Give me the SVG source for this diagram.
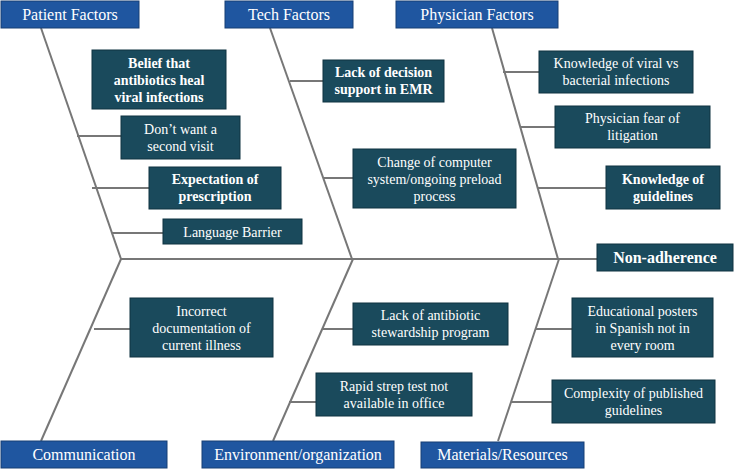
<svg xmlns="http://www.w3.org/2000/svg" width="734" height="469" viewBox="0 0 734 469">
<style>
.hdr{fill:#1f56a0;stroke:#173f75;stroke-width:1}
.box{fill:#1a4a5c;stroke:#0f3340;stroke-width:1}
.ht{font-size:16px;fill:#fff;text-anchor:middle}
.t{font-size:14px;fill:#fff;text-anchor:middle}
.b{font-weight:bold}
.ln{stroke:#777;stroke-width:2;fill:none}
</style>
<rect width="734" height="469" fill="#fff"/>
<g id="connectors">
<line class="ln" x1="121" y1="259" x2="597" y2="259"/>
<line class="ln" x1="41" y1="28" x2="121" y2="259"/>
<line class="ln" x1="270" y1="28" x2="352" y2="259"/>
<line class="ln" x1="492" y1="28" x2="558" y2="259"/>
<line class="ln" x1="121" y1="259" x2="41" y2="441"/>
<line class="ln" x1="353" y1="259" x2="273" y2="441"/>
<line class="ln" x1="559" y1="259" x2="498" y2="441"/>
<line class="ln" x1="77" y1="136" x2="121" y2="136"/>
<line class="ln" x1="92" y1="188" x2="149" y2="188"/>
<line class="ln" x1="112" y1="233" x2="163" y2="233"/>
<line class="ln" x1="290" y1="81" x2="323" y2="81"/>
<line class="ln" x1="323" y1="178" x2="353" y2="178"/>
<line class="ln" x1="503" y1="72" x2="539" y2="72"/>
<line class="ln" x1="521" y1="127" x2="555" y2="127"/>
<line class="ln" x1="538" y1="188" x2="606" y2="188"/>
<line class="ln" x1="94" y1="329" x2="130" y2="329"/>
<line class="ln" x1="323" y1="329" x2="353" y2="329"/>
<line class="ln" x1="289" y1="402" x2="316" y2="402"/>
<line class="ln" x1="535" y1="329" x2="572" y2="329"/>
<line class="ln" x1="511" y1="402" x2="552" y2="402"/>
</g>
<g font-family="Liberation Serif, Times New Roman, DejaVu Serif, serif">
<g id="patient-factors"><rect class="hdr" x="1" y="1" width="138" height="27"/><text class="ht" x="70" y="20">Patient Factors</text></g>
<g id="tech-factors"><rect class="hdr" x="225" y="1" width="128" height="27"/><text class="ht" x="289" y="20">Tech Factors</text></g>
<g id="physician-factors"><rect class="hdr" x="396" y="1" width="162" height="27"/><text class="ht" x="477" y="20">Physician Factors</text></g>
<g id="communication"><rect class="hdr" x="1" y="441" width="166" height="27"/><text class="ht" x="84" y="460">Communication</text></g>
<g id="environment"><rect class="hdr" x="202" y="441" width="192" height="27"/><text class="ht" x="298" y="460">Environment/organization</text></g>
<g id="materials"><rect class="hdr" x="421" y="442" width="163" height="26"/><text class="ht" x="502.5" y="460">Materials/Resources</text></g>
<g id="belief"><rect class="box" x="92" y="50" width="134" height="59"/><text class="t b" x="159" y="68">Belief that</text><text class="t b" x="159" y="85">antibiotics heal</text><text class="t b" x="159" y="102">viral infections</text></g>
<g id="second-visit"><rect class="box" x="121" y="116" width="119" height="43"/><text class="t" x="180.5" y="134">Don’t want a</text><text class="t" x="180.5" y="151">second visit</text></g>
<g id="expectation"><rect class="box" x="149" y="167" width="132" height="42"/><text class="t b" x="215" y="184">Expectation of</text><text class="t b" x="215" y="201">prescription</text></g>
<g id="language"><rect class="box" x="163" y="219" width="139" height="25"/><text class="t" x="232.5" y="236.5">Language Barrier</text></g>
<g id="decision-support"><rect class="box" x="323" y="60" width="121" height="42"/><text class="t b" x="383.5" y="77">Lack of decision</text><text class="t b" x="383.5" y="94">support in EMR</text></g>
<g id="computer-change"><rect class="box" x="353" y="149" width="163" height="59"/><text class="t" x="434.5" y="166.5">Change of computer</text><text class="t" x="434.5" y="183.5">system/ongoing preload</text><text class="t" x="434.5" y="200.5">process</text></g>
<g id="knowledge-viral"><rect class="box" x="539" y="51" width="154" height="42"/><text class="t" x="616" y="68">Knowledge of viral vs</text><text class="t" x="616" y="85">bacterial infections</text></g>
<g id="litigation"><rect class="box" x="555" y="106" width="155" height="42"/><text class="t" x="632.5" y="123">Physician fear of</text><text class="t" x="632.5" y="140">litigation</text></g>
<g id="guidelines-knowledge"><rect class="box" x="606" y="166" width="114" height="43"/><text class="t b" x="663" y="183.5">Knowledge of</text><text class="t b" x="663" y="200.5">guidelines</text></g>
<g id="non-adherence"><rect class="box" x="597" y="244" width="136" height="27"/><text class="ht b" x="665" y="263">Non-adherence</text></g>
<g id="documentation"><rect class="box" x="130" y="298" width="143" height="59"/><text class="t" x="201.5" y="315.5">Incorrect</text><text class="t" x="201.5" y="332.5">documentation of</text><text class="t" x="201.5" y="349.5">current illness</text></g>
<g id="stewardship"><rect class="box" x="353" y="303" width="155" height="42"/><text class="t" x="430.5" y="320">Lack of antibiotic</text><text class="t" x="430.5" y="337">stewardship program</text></g>
<g id="rapid-strep"><rect class="box" x="316" y="373" width="156" height="43"/><text class="t" x="394" y="390.5">Rapid strep test not</text><text class="t" x="394" y="407.5">available in office</text></g>
<g id="posters"><rect class="box" x="572" y="298" width="141" height="59"/><text class="t" x="642.5" y="315.5">Educational posters</text><text class="t" x="642.5" y="332.5">in Spanish not in</text><text class="t" x="642.5" y="349.5">every room</text></g>
<g id="complexity"><rect class="box" x="552" y="380" width="163" height="43"/><text class="t" x="633.5" y="397.5">Complexity of published</text><text class="t" x="633.5" y="414.5">guidelines</text></g>
</g>
</svg>
